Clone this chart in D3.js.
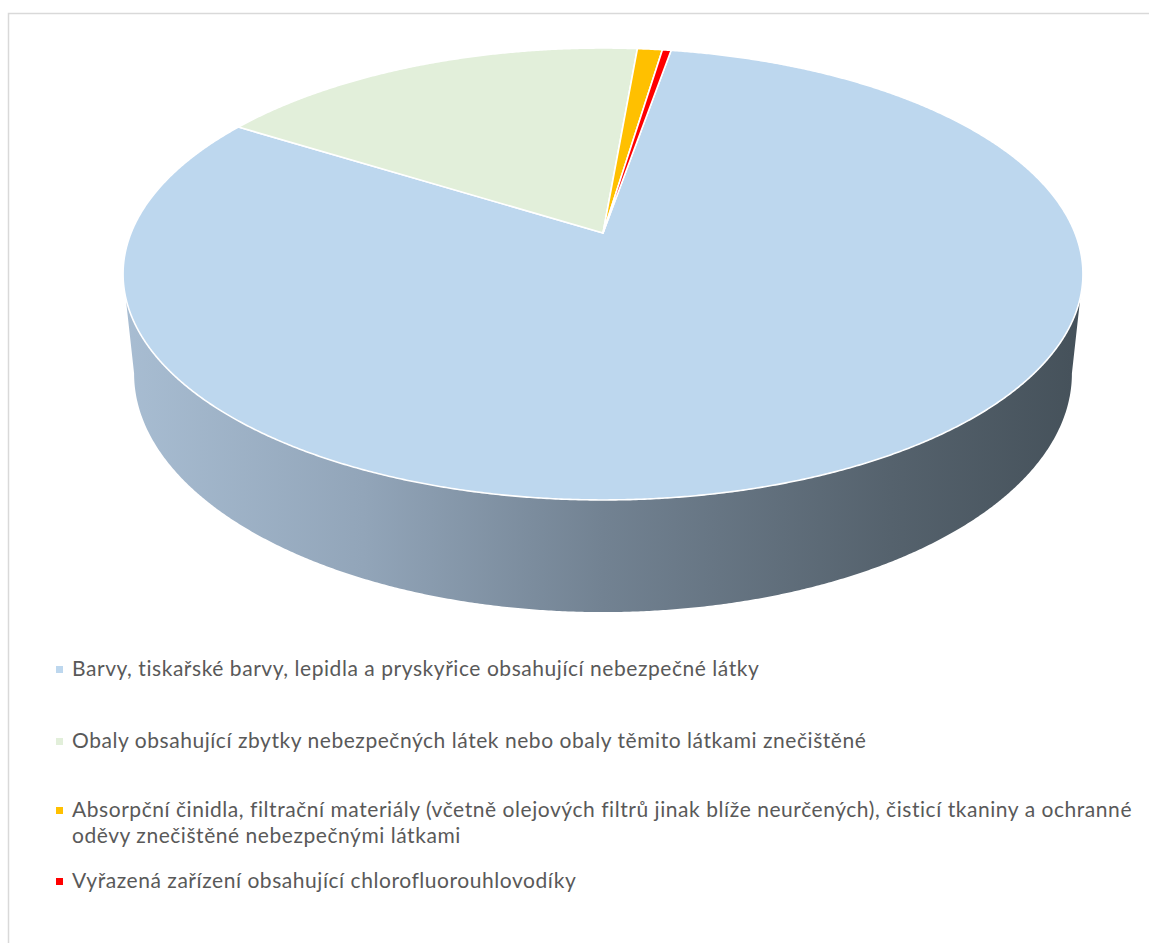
<!DOCTYPE html>
<html>
<head>
<meta charset="utf-8">
<script src="https://cdn.jsdelivr.net/npm/d3@7"></script>
<style>
  body { margin: 0; background: #fff; }
  svg { display: block; }
</style>
</head>
<body>
<svg width="1149" height="943"></svg>
<script>
(function (d3) {
  'use strict';

  // data (share of waste, %)
  const categories = [
    'Barvy, tiskařské barvy, lepidla a pryskyřice obsahující nebezpečné látky',
    'Obaly obsahující zbytky nebezpečných látek nebo obaly těmito látkami znečištěné',
    'Absorpční činidla, filtrační materiály (včetně olejových filtrů jinak blíže neurčených), čisticí tkaniny a ochranné oděvy znečištěné nebezpečnými látkami',
    'Vyřazená zařízení obsahující chlorofluorouhlovodíky'
  ];
  const values = [81.2, 17.45, 1.0, 0.35];
  // legend text broken into lines as in the picture
  const legendLines = [
    [categories[0]],
    [categories[1]],
    ['Absorpční činidla, filtrační materiály (včetně olejových filtrů jinak blíže neurčených), čisticí tkaniny a ochranné',
     'oděvy znečištěné nebezpečnými látkami'],
    [categories[3]]
  ];
  const colors = ['#bdd7ee', '#e2efda', '#ffc000', '#ff0000'];

  const svg = d3.select('svg');
  const width = +svg.attr('width');
  const height = +svg.attr('height');

  // chart border (runs off the right and bottom edge)
  svg.append('rect')
    .attr('x', 8.5).attr('y', 13.5)
    .attr('width', width + 20).attr('height', height + 20)
    .attr('fill', 'none')
    .attr('stroke', '#d9d9d9')
    .attr('stroke-width', 1.5);

  // simple perspective camera for the 3D pie
  const cx = 603, cy = 233;
  const focal = 2306, dist = 4.886;
  const tilt = Math.asin(0.463);
  const depthH = 0.24;
  const project = (theta, z) => {
    const X = Math.sin(theta), Y = -Math.cos(theta);
    const yc = Y * Math.sin(tilt) - z * Math.cos(tilt);
    const dc = dist - Y * Math.cos(tilt) - z * Math.sin(tilt);
    return [cx + focal * X / dc, cy + focal * yc / dc];
  };
  const rim = (a0, a1, z) => {
    const n = Math.max(2, Math.ceil(Math.abs(a1 - a0) / 0.005));
    return d3.range(n + 1).map(i => project(a0 + (a1 - a0) * i / n, z));
  };

  const startAngle = 9.8 * Math.PI / 180;
  const pie = d3.pie().sort(null)
    .startAngle(startAngle)
    .endAngle(startAngle + 2 * Math.PI);
  const arcs = pie(values);

  // silhouette angles (leftmost/rightmost points of top and bottom rims)
  const probe = d3.range(0, 2 * Math.PI, 0.001);
  const extreme = (z, cmp) => probe.reduce((best, a) =>
    cmp(project(a, z)[0], project(best, z)[0]) ? a : best, probe[0]);
  const rightTop = extreme(0, (a, b) => a > b);
  const leftTop = extreme(0, (a, b) => a < b);
  const rightBot = extreme(-depthH, (a, b) => a > b);
  const leftBot = extreme(-depthH, (a, b) => a < b);

  const defs = svg.append('defs');
  const grad = defs.append('linearGradient')
    .attr('id', 'sideGrad')
    .attr('gradientUnits', 'userSpaceOnUse')
    .attr('x1', project(leftTop, 0)[0]).attr('x2', project(rightTop, 0)[0])
    .attr('y1', 0).attr('y2', 0);
  grad.selectAll('stop')
    .data([[0, '#a8bdd2'], [0.25, '#92a5b9'], [0.5, '#728292'], [0.8, '#55626d'], [1, '#45515a']])
    .join('stop')
      .attr('offset', d => d[0])
      .attr('stop-color', d => d[1]);

  const line = d3.line();
  const chart = svg.append('g');

  // side wall: front part of each slice between the silhouette angles
  arcs.forEach((d, i) => {
    [0, 2 * Math.PI].forEach(shift => {
      const a0 = Math.max(d.startAngle - shift, rightTop);
      const a1 = Math.min(d.endAngle - shift, leftTop);
      if (a1 <= a0) return;
      const b0 = a0 === rightTop ? rightBot : a0;
      const b1 = a1 === leftTop ? leftBot : a1;
      const pts = rim(a0, a1, 0).concat(rim(b1, b0, -depthH));
      chart.append('path')
        .attr('d', line(pts) + 'Z')
        .attr('fill', i === 0 ? 'url(#sideGrad)' : d3.color(colors[i]).darker(1.2));
    });
  });

  // top faces
  chart.selectAll('path.slice')
    .data(arcs)
    .join('path')
      .attr('class', 'slice')
      .attr('d', d => line([[cx, cy]].concat(rim(d.startAngle, d.endAngle, 0))) + 'Z')
      .attr('fill', (d, i) => colors[i])
      .attr('stroke', '#fff')
      .attr('stroke-width', 1.6)
      .attr('stroke-linejoin', 'round');

  // legend
  const legendY = [676, 748, 817, 888];
  const lineGap = 26;
  const legend = svg.append('g')
    .attr('font-family', 'Lato, "Open Sans", sans-serif')
    .attr('font-size', 21)
    .attr('letter-spacing', 0.55)
    .attr('fill', '#595959');

  const item = legend.selectAll('g')
    .data(legendLines)
    .join('g')
      .attr('transform', (d, i) => `translate(0,${legendY[i]})`);

  item.append('rect')
    .attr('x', 56).attr('y', -10)
    .attr('width', 7).attr('height', 7)
    .attr('fill', (d, i) => colors[i]);

  item.append('text')
    .attr('x', 72)
    .selectAll('tspan')
    .data(d => d)
    .join('tspan')
      .attr('x', 72)
      .attr('y', (d, j) => j * lineGap)
      .text(d => d);

}(d3));
</script>
</body>
</html>
